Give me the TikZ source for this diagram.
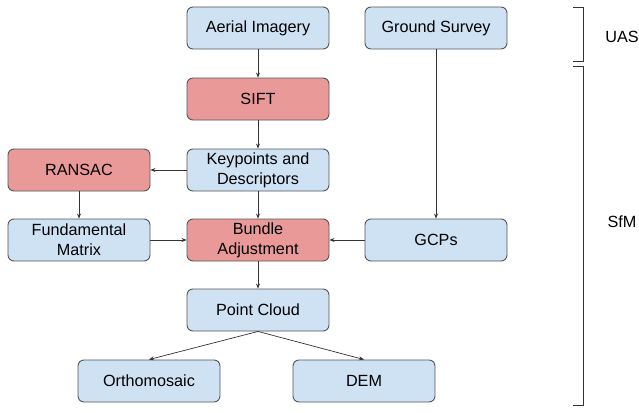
\documentclass[tikz,border=0pt]{standalone}
\usepackage{fontspec}
\setmainfont{Liberation Sans}
\usetikzlibrary{arrows.meta}
\definecolor{boxblue}{HTML}{CFE2F3}
\definecolor{boxred}{HTML}{EA9999}
\definecolor{edge}{HTML}{555555}
\tikzset{
  stage/.style = {draw=edge, line width=0.9pt, rounded corners=6pt,
                  minimum width=142pt, minimum height=42pt,
                  inner sep=0pt, align=center,
                  font=\fontsize{16.2}{20}\selectfont},
  flow/.style = {draw=black!80, line width=0.7pt,
                 -{Stealth[length=5pt,width=4pt]}}
}

\begin{document}
\begin{tikzpicture}[x=1pt, y=-1pt]
	\def \colL{79}   % left column
	\def \colM{258}  % middle column
	\def \colR{436}  % right column
	\useasboundingbox (0,0) rectangle (639,412);

	% Boxes
	\node[stage, fill=boxblue] (aerial) at (\colM,28)  {Aerial Imagery};
	\node[stage, fill=boxblue] (ground) at (\colR,28)  {Ground Survey};
	\node[stage, fill=boxred]  (sift)   at (\colM,99)  {SIFT};
	\node[stage, fill=boxred]  (ransac) at (\colL,170) {RANSAC};
	\node[stage, fill=boxblue] (keys)   at (\colM,170) {Keypoints and\\Descriptors};
	\node[stage, fill=boxblue] (fund)   at (\colL,240) {Fundamental\\Matrix};
	\node[stage, fill=boxred]  (bundle) at (\colM,240) {Bundle\\Adjustment};
	\node[stage, fill=boxblue] (gcps)   at (\colR,240) {GCPs};
	\node[stage, fill=boxblue] (cloud)  at (\colM,310) {Point Cloud};
	\node[stage, fill=boxblue] (ortho)  at (149,381) {Orthomosaic};
	\node[stage, fill=boxblue] (dem)    at (364,381) {DEM};

	% Arrows
	\draw[flow] (aerial) -- (sift);
	\draw[flow] (sift) -- (keys);
	\draw[flow] (keys) -- (ransac);
	\draw[flow] (ransac) -- (fund);
	\draw[flow] (keys) -- (bundle);
	\draw[flow] (fund) -- (bundle);
	\draw[flow] (ground) -- (gcps);
	\draw[flow] (gcps) -- (bundle);
	\draw[flow] (bundle) -- (cloud);
	\draw[flow] (cloud.south) -- (ortho.north);
	\draw[flow] (cloud.south) -- (dem.north);

	% Brackets
	\draw[black!80, line width=0.8pt] (573,7) -- (583,7) -- (583,61) -- (573,61);
	\draw[black!80, line width=0.8pt] (573,66) -- (583,66) -- (583,405) -- (573,405);
	\node[font=\fontsize{16.2}{20}\selectfont] (uas) at (622,37)  {UAS};
	\node[font=\fontsize{16.2}{20}\selectfont] (sfm) at (622,222) {SfM};
\end{tikzpicture}
\end{document}
